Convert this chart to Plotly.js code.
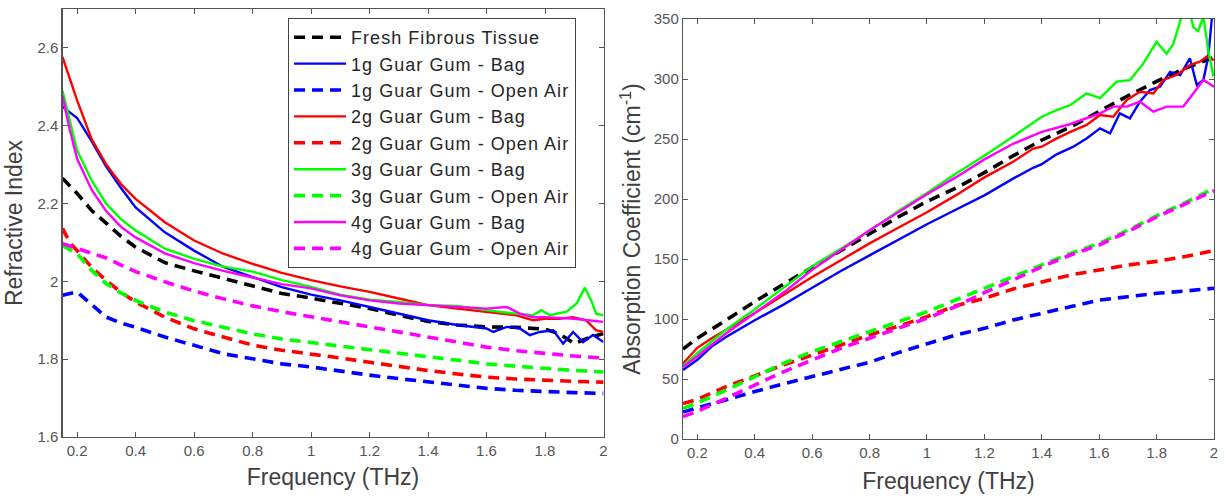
<!DOCTYPE html>
<html><head><meta charset="utf-8">
<script src="https://cdn.plot.ly/plotly-3.0.1.min.js"></script>
<style>html,body{margin:0;padding:0;background:#fff;}#chart{width:1225px;height:497px;}
.legendtext{letter-spacing:1.05px;}</style>
</head><body><div id="chart"></div>
<script>
// ---------- Refractive index (left) ----------
const riFreq = [0.15,0.175,0.2,0.25,0.3,0.35,0.4,0.5,0.6,0.7,0.8,0.9,1.0,1.1,1.2,1.3,1.4,1.5,1.6,1.7,1.8,1.9,2.0];
const riFreshFreq = [0.15,0.175,0.2,0.25,0.3,0.35,0.4,0.5,0.6,0.7,0.8,0.9,1.0,1.1,1.2,1.3,1.4,1.5,1.6,1.7,1.8,1.85,1.9,1.95,2.0];
const riFresh = [2.265,2.245,2.226,2.182,2.149,2.116,2.088,2.048,2.027,2.008,1.987,1.969,1.957,1.944,1.93,1.913,1.897,1.888,1.883,1.882,1.877,1.865,1.84,1.855,1.866];

const ri1gBagFreq = [0.15,0.175,0.2,0.25,0.3,0.35,0.4,0.5,0.6,0.7,0.8,0.9,1.0,1.1,1.2,1.3,1.4,1.5,1.6,1.623,1.669,1.714,1.748,1.782,1.828,1.862,1.896,1.93,1.964,2.0];
const ri1gBag = [2.449,2.435,2.42,2.36,2.294,2.24,2.19,2.126,2.079,2.037,2.01,1.985,1.966,1.951,1.934,1.917,1.90,1.888,1.879,1.87,1.883,1.879,1.862,1.87,1.874,1.84,1.87,1.844,1.862,1.844];
const ri1gOpen = [1.964,1.968,1.973,1.94,1.908,1.893,1.882,1.857,1.836,1.814,1.801,1.788,1.78,1.769,1.759,1.75,1.742,1.733,1.725,1.72,1.716,1.714,1.712];

const ri2gBagFreq = [0.15,0.175,0.2,0.25,0.3,0.35,0.4,0.5,0.6,0.7,0.8,0.9,1.0,1.1,1.2,1.3,1.4,1.5,1.6,1.7,1.759,1.799,1.85,1.896,1.94,1.975,2.0];
const ri2gBag = [2.577,2.52,2.465,2.365,2.30,2.25,2.212,2.152,2.105,2.071,2.045,2.022,2.003,1.987,1.973,1.956,1.939,1.93,1.921,1.913,1.90,1.904,1.904,1.908,1.9,1.874,1.87];
const ri2gOpen = [2.136,2.10,2.079,2.036,2.002,1.972,1.947,1.908,1.878,1.857,1.836,1.823,1.814,1.803,1.792,1.781,1.771,1.762,1.754,1.749,1.745,1.743,1.741];

const ri3gBagFreq = [0.15,0.175,0.2,0.25,0.3,0.35,0.4,0.5,0.6,0.7,0.8,0.9,1.0,1.1,1.2,1.3,1.4,1.5,1.6,1.7,1.759,1.787,1.817,1.874,1.908,1.936,1.958,1.975,2.0];
const ri3gBag = [2.49,2.41,2.336,2.259,2.199,2.16,2.131,2.084,2.058,2.038,2.025,2.003,1.986,1.966,1.953,1.947,1.939,1.937,1.926,1.917,1.913,1.926,1.913,1.922,1.943,1.984,1.951,1.917,1.913];
const ri3gOpen = [2.092,2.082,2.071,2.028,1.994,1.97,1.951,1.921,1.899,1.882,1.865,1.852,1.843,1.833,1.823,1.814,1.805,1.796,1.788,1.782,1.776,1.771,1.767];

const ri4gBagFreq = [0.15,0.175,0.2,0.25,0.3,0.35,0.4,0.5,0.6,0.7,0.8,0.9,1.0,1.1,1.2,1.3,1.4,1.5,1.6,1.669,1.714,1.759,1.8,1.9,2.0];
const ri4gBag = [2.477,2.39,2.315,2.235,2.18,2.14,2.113,2.072,2.047,2.027,2.01,1.993,1.982,1.964,1.951,1.943,1.939,1.934,1.93,1.934,1.917,1.908,1.908,1.904,1.896];
const ri4gOpen = [2.097,2.091,2.085,2.073,2.06,2.042,2.025,1.999,1.975,1.955,1.937,1.922,1.91,1.896,1.883,1.87,1.857,1.844,1.831,1.822,1.814,1.808,1.803];

// ---------- Absorption coefficient (right) ----------
const acFreq = [0.15,0.2,0.3,0.4,0.5,0.6,0.7,0.8,0.9,1.0,1.1,1.2,1.3,1.4,1.5,1.6,1.7,1.8,1.9,2.0];
const acFresh = [75,84,99,114.5,129,143,157,171,185,198,209,222,236,249,260,273,286,298,309,318];

const ac1gBagFreq = [0.15,0.2,0.25,0.3,0.4,0.5,0.6,0.7,0.8,0.9,1.0,1.1,1.2,1.3,1.37,1.4,1.45,1.51,1.556,1.603,1.638,1.672,1.707,1.742,1.777,1.812,1.847,1.882,1.916,1.94,1.963,1.98,1.992,2.0];
const ac1gBag = [57.5,66,77,85,99,112,126,140,153,166,179,191,203,217,226,229,237,243.6,250.5,258.9,254.7,271.4,267.2,281.1,290.8,293.6,306,303.3,317.2,295,299.2,318.6,349,357];
const ac1gOpen = [22.5,26,33,39.5,46,52,57.5,64,72,79,86.7,92.2,99.2,104.7,110.3,115.8,118.6,121.4,123.3,125.6];

const ac2gBagFreq = [0.15,0.2,0.25,0.3,0.4,0.5,0.6,0.7,0.8,0.9,1.0,1.1,1.2,1.3,1.37,1.4,1.452,1.5,1.556,1.603,1.649,1.696,1.742,1.789,1.823,1.87,1.916,1.951,1.974,2.0];
const ac2gBag = [63,76,84,91,105,120,135,149,163,176,189,203,218,231,242,243.6,250.5,256,261.7,270,268.6,282.5,289.4,288,299.2,303.3,311.7,314.4,318.6,315.8];
const ac2gOpen = [29.5,33,43.6,53,61.7,70,78.3,86.7,94,102,111,117.2,125,131,136.7,140.8,145,148,152,157];

const ac3gBagFreq = [0.15,0.2,0.3,0.4,0.5,0.6,0.7,0.8,0.9,1.0,1.1,1.2,1.3,1.4,1.452,1.5,1.556,1.603,1.661,1.707,1.754,1.8,1.835,1.858,1.887,1.916,1.928,1.945,1.963,1.98,1.998];
const ac3gBag = [61,71.5,91,108,126,144,158.5,173.5,190,205,221,236,252,268.6,274,278.3,288,284,297.8,299,313,331,321,329,352,355,343,340,352,324,302];
const ac3gOpen = [25.5,30,40.8,52,63,72.8,81.1,89.4,98,106,115.8,125.6,135.3,145,154.7,163,174,186,197,209];

const ac4gBagFreq = [0.15,0.2,0.3,0.4,0.5,0.6,0.7,0.8,0.9,1.0,1.1,1.2,1.3,1.4,1.5,1.556,1.603,1.649,1.696,1.742,1.789,1.835,1.893,1.928,1.963,2.0];
const ac4gBag = [60,69,88,105,122,141,157.5,174,189,204,218,233,246,256,262.5,267.2,271.4,277,277,281.1,272.8,277,277,288,299.2,293.6];
const ac4gOpen = [18.6,23,33.9,45,56,65.8,75.6,84,92,100.6,110.3,122,132.5,143.6,153.3,161.7,172.8,185,196,207];

// ---------- labels / ticks ----------
const seriesNames = ['Fresh Fibrous Tissue','1g Guar Gum - Bag','1g Guar Gum - Open Air','2g Guar Gum - Bag','2g Guar Gum - Open Air','3g Guar Gum - Bag','3g Guar Gum - Open Air','4g Guar Gum - Bag','4g Guar Gum - Open Air'];
const freqTickVals = [0.2,0.4,0.6,0.8,1.0,1.2,1.4,1.6,1.8,2.0];
const freqTickText = ['0.2','0.4','0.6','0.8','1','1.2','1.4','1.6','1.8','2'];
const riTickVals = [1.6,1.8,2.0,2.2,2.4,2.6];
const riTickText = ['1.6','1.8','2','2.2','2.4','2.6'];
const acTickVals = [0,50,100,150,200,250,300,350];

const colors = ['#000000','#0000ff','#0000ff','#ff0000','#ff0000','#00ff00','#00ff00','#ff00ff','#ff00ff'];
const DASH = '11px,7px';
function mk(x, y, i, axis) {
  const dashed = (i === 0 || i % 2 === 0);
  const t = {
    x: x, y: y, type: 'scatter', mode: 'lines', name: seriesNames[i],
    line: {color: colors[i], width: dashed ? 3.6 : 2.4, dash: dashed ? DASH : 'solid'},
    showlegend: axis === 1, legendrank: i + 1, hoverinfo: 'skip'
  };
  if (axis === 2) { t.xaxis = 'x2'; t.yaxis = 'y2'; }
  return t;
}
const data = [
  mk(riFreshFreq, riFresh, 0, 1),
  mk(ri1gBagFreq, ri1gBag, 1, 1),
  mk(riFreq, ri1gOpen, 2, 1),
  mk(ri2gBagFreq, ri2gBag, 3, 1),
  mk(riFreq, ri2gOpen, 4, 1),
  mk(ri3gBagFreq, ri3gBag, 5, 1),
  mk(riFreq, ri3gOpen, 6, 1),
  mk(ri4gBagFreq, ri4gBag, 7, 1),
  mk(riFreq, ri4gOpen, 8, 1),
  mk(acFreq, acFresh, 0, 2),
  mk(ac1gBagFreq, ac1gBag, 1, 2),
  mk(acFreq, ac1gOpen, 2, 2),
  mk(ac2gBagFreq, ac2gBag, 3, 2),
  mk(acFreq, ac2gOpen, 4, 2),
  mk(ac3gBagFreq, ac3gBag, 5, 2),
  mk(acFreq, ac3gOpen, 6, 2),
  mk(ac4gBagFreq, ac4gBag, 7, 2),
  mk(acFreq, ac4gOpen, 8, 2)
];
const W = 1225, H = 497;
const tickFont = {family: 'Liberation Sans, Arial, sans-serif', size: 15, color: '#555555'};
const titleFont = {family: 'Liberation Sans, Arial, sans-serif', size: 23, color: '#404040'};
const axBase = {
  showgrid: false, zeroline: false, showline: true, linecolor: '#555555', linewidth: 1.2,
  mirror: 'ticks', ticks: 'inside', ticklen: 5, tickcolor: '#555555', tickwidth: 1,
  tickfont: tickFont, automargin: false, fixedrange: true
};
const layout = {
  width: W, height: H,
  margin: {l: 0, r: 0, t: 0, b: 0},
  paper_bgcolor: '#ffffff', plot_bgcolor: '#ffffff',
  font: {family: 'Liberation Sans, Arial, sans-serif'},
  xaxis: Object.assign({}, axBase, {
    domain: [62.5/W, 603.5/W], range: [0.15, 2.0], tickvals: freqTickVals, ticktext: freqTickText,
    anchor: 'y', title: {text: 'Frequency (THz)', font: titleFont, standoff: 10}
  }),
  yaxis: Object.assign({}, axBase, {
    domain: [(H-437)/H, (H-9)/H], range: [1.6, 2.7], tickvals: riTickVals, ticktext: riTickText,
    anchor: 'x', title: {text: 'Refractive Index', font: titleFont, standoff: 8}
  }),
  xaxis2: Object.assign({}, axBase, {
    domain: [683/W, 1214/W], range: [0.15, 2.0], tickvals: freqTickVals, ticktext: freqTickText,
    anchor: 'y2', title: {text: 'Frequency (THz)', font: titleFont, standoff: 12}
  }),
  yaxis2: Object.assign({}, axBase, {
    domain: [(H-439)/H, (H-19)/H], range: [0, 350], tickvals: acTickVals,
    anchor: 'x2', title: {text: 'Absorption Coefficient (cm<sup>-1</sup>)', font: titleFont, standoff: 6}
  }),
  legend: {
    x: 288/W, y: 1 - 18/H, xanchor: 'left', yanchor: 'top',
    bgcolor: '#ffffff', bordercolor: '#444444', borderwidth: 1,
    font: {family: 'Liberation Sans, Arial, sans-serif', size: 18, color: '#262626'},
    itemwidth: 52, tracegroupgap: 0, traceorder: 'normal'
  },
  showlegend: true
};
Plotly.newPlot('chart', data, layout, {displayModeBar: false, staticPlot: true});
</script>
</body></html>
